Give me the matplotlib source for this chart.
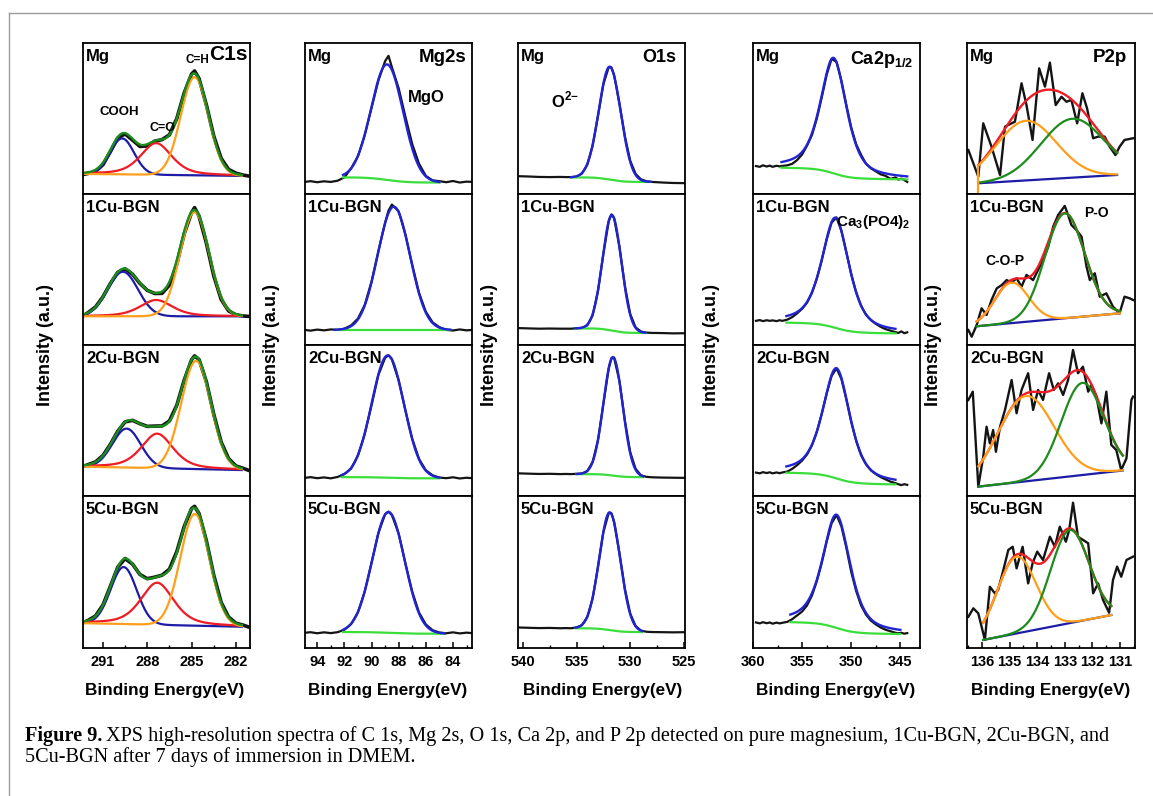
import numpy as np
import matplotlib
matplotlib.use("Agg")
import matplotlib.pyplot as plt
from matplotlib.lines import Line2D
from matplotlib.ticker import MultipleLocator

plt.rcParams["font.family"] = ["Liberation Sans", "DejaVu Sans"]
plt.rcParams["font.weight"] = "bold"
plt.rcParams["mathtext.fontset"] = "custom"
plt.rcParams["mathtext.rm"] = "Liberation Sans:bold"
plt.rcParams["mathtext.bf"] = "Liberation Sans:bold"

SAMPLES = ["Mg", "1Cu-BGN", "2Cu-BGN", "5Cu-BGN"]

# ---- C 1s: measured spectra + three-peak fit (centre, height, fwhm, lorentz fraction)
C1S_E = [292.3, 292.0, 291.5, 291.0, 290.5, 290.0, 289.5, 289.0, 288.5, 288.0, 287.5, 287.0, 286.5,
         286.0, 285.5, 285.0, 284.8, 284.5, 284.0, 283.5, 283.0, 282.5, 282.0, 281.5, 281.2]
C1S_RAW = [
    [0.13, 0.136, 0.15, 0.194, 0.28, 0.371, 0.398, 0.357, 0.315, 0.318, 0.35, 0.36, 0.392,
     0.501, 0.67, 0.795, 0.815, 0.765, 0.589, 0.383, 0.236, 0.163, 0.138, 0.125, 0.12],
    [0.195, 0.215, 0.252, 0.319, 0.407, 0.481, 0.504, 0.469, 0.408, 0.362, 0.341, 0.342, 0.397,
     0.538, 0.737, 0.878, 0.91, 0.854, 0.674, 0.457, 0.302, 0.226, 0.2, 0.192, 0.19],
    [0.197, 0.208, 0.226, 0.268, 0.342, 0.429, 0.491, 0.501, 0.479, 0.461, 0.463, 0.464, 0.497,
     0.602, 0.768, 0.903, 0.928, 0.904, 0.756, 0.54, 0.357, 0.248, 0.199, 0.183, 0.172],
    [0.168, 0.182, 0.211, 0.283, 0.405, 0.532, 0.588, 0.552, 0.484, 0.456, 0.466, 0.479, 0.519,
     0.635, 0.8, 0.918, 0.932, 0.885, 0.705, 0.478, 0.3, 0.204, 0.163, 0.15, 0.14],
]
C1S_RANGE = (292.2, 281.6)
C1S_BASE = [(0.133, 0.12), (0.19, 0.19), (0.194, 0.172), (0.163, 0.14)]
C1S_COOH = [(289.7, 0.238, 1.9, 0.0), (289.65, 0.295, 2.4, 0.0), (289.4, 0.258, 2.25, 0.0), (289.6, 0.375, 2.07, 0.0)]
C1S_CO = [(287.4, 0.21, 2.5, 0.5), (287.4, 0.108, 2.6, 0.5), (287.33, 0.229, 2.55, 0.5), (287.33, 0.277, 2.64, 0.5)]
C1S_CH = [(284.8, 0.65, 2.2, 0.0), (284.8, 0.69, 2.3, 0.0), (284.7, 0.716, 2.37, 0.0), (284.78, 0.735, 2.32, 0.0)]

# ---- Mg 2s
MG2S_E = [94.9, 94.5, 94.0, 93.5, 93.0, 92.5, 92.0, 91.5, 91.0, 90.5, 90.0, 89.5, 89.0, 88.75,
          88.5, 88.0, 87.5, 87.0, 86.5, 86.0, 85.5, 85.0, 84.5, 84.0, 83.5, 83.0, 82.6]
MG2S_RAW = [
    [0.08, 0.085, 0.078, 0.084, 0.08, 0.088, 0.11, 0.17, 0.25, 0.39, 0.57, 0.75, 0.88, 0.915,
     0.84, 0.7, 0.51, 0.33, 0.2, 0.12, 0.09, 0.085, 0.078, 0.086, 0.076, 0.082, 0.08],
    [0.1, 0.095, 0.102, 0.097, 0.103, 0.1, 0.108, 0.13, 0.175, 0.265, 0.42, 0.62, 0.81, 0.89,
     0.93, 0.885, 0.73, 0.53, 0.345, 0.22, 0.15, 0.118, 0.1, 0.096, 0.103, 0.097, 0.1],
    [0.12, 0.125, 0.118, 0.123, 0.117, 0.126, 0.145, 0.182, 0.268, 0.41, 0.6, 0.8, 0.915, 0.932,
     0.905, 0.765, 0.565, 0.378, 0.245, 0.17, 0.137, 0.122, 0.118, 0.124, 0.116, 0.121, 0.118],
    [0.1, 0.104, 0.097, 0.103, 0.098, 0.104, 0.12, 0.158, 0.235, 0.372, 0.56, 0.755, 0.88, 0.897,
     0.875, 0.752, 0.555, 0.37, 0.233, 0.155, 0.117, 0.102, 0.097, 0.103, 0.096, 0.101, 0.098],
]
MG2S_RANGE = [(92.1, 85.0), (92.7, 84.2), (92.2, 85.0), (92.1, 84.6)]
MG2S_BASE = [(0.11, 0.076), (0.1, 0.1), (0.125, 0.117), (0.105, 0.094)]
MG2S_PEAK = [(88.85, 0.765, 2.77, 0.0), (88.36, 0.816, 2.8, 0.0), (88.8, 0.81, 2.8, 0.0), (88.75, 0.795, 2.8, 0.0)]

# ---- O 1s
O1S_E = [540.4, 539.5, 538.5, 537.5, 536.5, 536.0, 535.5, 535.0, 534.5, 534.0, 533.5, 533.0, 532.5,
         532.0, 531.75, 531.5, 531.0, 530.5, 530.0, 529.5, 529.0, 528.5, 528.0, 527.0, 526.0, 525.0]
O1S_RAW = [
    [0.118, 0.116, 0.113, 0.112, 0.113, 0.112, 0.112, 0.115, 0.135, 0.194, 0.32, 0.517, 0.727,
     0.84, 0.838, 0.787, 0.598, 0.382, 0.22, 0.133, 0.097, 0.085, 0.08, 0.076, 0.073, 0.072],
    [0.112, 0.11, 0.108, 0.109, 0.108, 0.108, 0.108, 0.111, 0.113, 0.13, 0.197, 0.358, 0.604,
     0.82, 0.865, 0.84, 0.649, 0.391, 0.205, 0.117, 0.089, 0.082, 0.08, 0.079, 0.077, 0.078],
    [0.15, 0.148, 0.146, 0.147, 0.145, 0.146, 0.145, 0.147, 0.149, 0.165, 0.225, 0.37, 0.61,
     0.845, 0.912, 0.915, 0.76, 0.5, 0.29, 0.18, 0.137, 0.127, 0.124, 0.122, 0.121, 0.12],
    [0.135, 0.133, 0.131, 0.132, 0.13, 0.131, 0.13, 0.135, 0.15, 0.203, 0.327, 0.533, 0.762,
     0.889, 0.886, 0.829, 0.621, 0.39, 0.226, 0.145, 0.114, 0.107, 0.105, 0.104, 0.103, 0.104],
]
O1S_RANGE = [(535.5, 528.1), (535.1, 528.6), (535.0, 528.8), (535.1, 528.9)]
O1S_BASE = [(0.11, 0.08), (0.11, 0.08), (0.145, 0.125), (0.13, 0.105)]
O1S_PEAK = [(531.9, 0.748, 2.4, 0.0), (531.7, 0.766, 2.07, 0.0), (531.6, 0.785, 2.1, 0.0), (531.9, 0.775, 2.3, 0.0)]

# ---- Ca 2p1/2
CA2P_E = [359.7, 359.3, 359.0, 358.6, 358.3, 358.0, 357.6, 357.3, 357.0, 356.5, 356.0, 355.5, 355.0,
          354.5, 354.0, 353.5, 353.0, 352.5, 352.0, 351.5, 351.0, 350.5, 350.0, 349.5, 349.0, 348.5,
          348.0, 347.5, 347.0, 346.5, 346.0, 345.5, 345.2, 344.9, 344.6, 344.3]
CA2P_RAW = [
    [0.185, 0.18, 0.19, 0.182, 0.188, 0.18, 0.187, 0.183, 0.186, 0.19, 0.2, 0.225, 0.262,
     0.32, 0.39, 0.5, 0.64, 0.79, 0.895, 0.875, 0.75, 0.59, 0.44, 0.33, 0.26, 0.2,
     0.17, 0.15, 0.13, 0.12, 0.1, 0.11, 0.095, 0.102, 0.092, 0.08],
    [0.16, 0.165, 0.158, 0.164, 0.16, 0.163, 0.158, 0.164, 0.16, 0.168, 0.185, 0.21, 0.24,
     0.28, 0.345, 0.44, 0.56, 0.7, 0.81, 0.845, 0.755, 0.615, 0.47, 0.35, 0.26, 0.2,
     0.165, 0.14, 0.12, 0.105, 0.095, 0.085, 0.08, 0.09, 0.078, 0.084],
    [0.155, 0.15, 0.158, 0.152, 0.157, 0.15, 0.156, 0.151, 0.156, 0.162, 0.18, 0.205, 0.235,
     0.275, 0.335, 0.425, 0.545, 0.68, 0.795, 0.846, 0.775, 0.64, 0.49, 0.365, 0.27, 0.21,
     0.17, 0.145, 0.125, 0.11, 0.095, 0.085, 0.078, 0.072, 0.078, 0.074],
    [0.168, 0.162, 0.17, 0.163, 0.168, 0.16, 0.167, 0.162, 0.166, 0.172, 0.19, 0.215, 0.24,
     0.28, 0.345, 0.44, 0.56, 0.7, 0.82, 0.875, 0.8, 0.66, 0.5, 0.375, 0.28, 0.22,
     0.18, 0.155, 0.135, 0.12, 0.11, 0.1, 0.097, 0.1, 0.094, 0.098],
]
CA2P_RANGE = [(357.1, 344.3), (356.6, 345.5), (356.6, 345.5), (356.2, 345.0)]
CA2P_BASE = [(0.174, 0.097), (0.148, 0.077), (0.154, 0.077), (0.17, 0.092)]
CA2P_PEAK = [(351.8, 0.765, 3.16, 0.6), (351.6, 0.73, 3.3, 0.6), (351.5, 0.73, 3.3, 0.6), (351.5, 0.745, 3.3, 0.6)]

# ---- P 2p: noisy spectra, two-peak fit on a linear background
P2P_E = [
    [136.5, 136.14, 135.96, 135.66, 135.35, 135.17, 134.81, 134.57, 134.39, 134.17, 133.93, 133.72, 133.54,
     133.33, 133.12, 132.94, 132.76, 132.55, 132.36, 132.19, 131.97, 131.79, 131.55, 131.37, 131.16,
     131.01, 130.83, 130.52],
    [136.5, 136.38, 136.2, 136.02, 135.84, 135.66, 135.47, 135.29, 135.11, 134.93, 134.75, 134.57, 134.39,
     134.15, 133.97, 133.79, 133.6, 133.42, 133.24, 133.0, 132.88, 132.76, 132.58, 132.39, 132.21,
     132.09, 131.91, 131.73, 131.49, 131.25, 131.01, 130.83, 130.64, 130.52],
    [136.5, 136.34, 136.14, 135.96, 135.84, 135.72, 135.6, 135.5, 135.35, 135.17, 134.93, 134.75, 134.57,
     134.33, 134.15, 133.97, 133.79, 133.57, 133.4, 133.24, 133.06, 132.88, 132.7, 132.52, 132.34,
     132.15, 132.03, 131.85, 131.67, 131.49, 131.31, 131.13, 130.95, 130.76, 130.58, 130.52],
    [136.5, 136.32, 136.14, 135.9, 135.72, 135.54, 135.42, 135.23, 135.05, 134.89, 134.75, 134.53, 134.33,
     134.17, 134.0, 133.79, 133.54, 133.36, 133.18, 132.96, 132.84, 132.7, 132.52, 132.34, 132.15,
     131.97, 131.79, 131.61, 131.39, 131.25, 131.1, 130.95, 130.76, 130.52],
]
P2P_RAW = [
    [0.291, 0.115, 0.468, 0.313, 0.126, 0.446, 0.479, 0.733, 0.589, 0.358, 0.832, 0.711, 0.87,
     0.589, 0.644, 0.611, 0.623, 0.468, 0.667, 0.567, 0.369, 0.38, 0.38, 0.313, 0.258,
     0.313, 0.358, 0.369],
    [0.099, 0.055, 0.132, 0.243, 0.199, 0.298, 0.375, 0.397, 0.43, 0.413, 0.442, 0.386, 0.464,
     0.43, 0.497, 0.563, 0.651, 0.784, 0.861, 0.921, 0.861, 0.795, 0.762, 0.717, 0.519,
     0.43, 0.475, 0.32, 0.342, 0.254, 0.21, 0.32, 0.309, 0.298],
    [0.636, 0.691, 0.062, 0.26, 0.459, 0.349, 0.437, 0.293, 0.459, 0.57, 0.768, 0.548, 0.702,
     0.813, 0.57, 0.702, 0.636, 0.813, 0.702, 0.746, 0.669, 0.768, 0.967, 0.813, 0.856,
     0.691, 0.735, 0.658, 0.481, 0.691, 0.338, 0.305, 0.172, 0.25, 0.636, 0.658],
    [0.206, 0.261, 0.228, 0.053, 0.403, 0.36, 0.382, 0.513, 0.645, 0.666, 0.524, 0.666, 0.425,
     0.557, 0.634, 0.579, 0.732, 0.666, 0.798, 0.699, 0.776, 0.956, 0.732, 0.711, 0.689,
     0.36, 0.425, 0.316, 0.232, 0.447, 0.535, 0.469, 0.579, 0.601],
]
P2P_RANGE = [(136.14, 131.1), (136.2, 131.0), (136.14, 130.89), (135.96, 131.31)]
P2P_BASE = [(0.071, 0.126), (0.124, 0.21), (0.062, 0.169), (0.053, 0.217)]
P2P_COP = [(134.41, 0.395, 2.6, 0.0), (134.93, 0.268, 1.45, 0.0), (134.41, 0.565, 2.4, 0.0), (134.75, 0.505, 1.65, 0.0)]
P2P_PO = [(132.72, 0.39, 2.7, 0.0), (133.0, 0.695, 1.69, 0.0), (132.36, 0.61, 1.81, 0.0), (132.82, 0.612, 1.65, 0.0)]

BLACK = "#141414"
BLUE = "#1c1ca6"
PEAK_BLUE = "#2024d2"
RED = "#ee1c24"
ORANGE = "#ff9e1b"
GREEN = "#1d8c1d"
LIME = "#3ade3a"

W, H = 1153, 796
COL_X = [(83, 250), (305, 472), (518, 685), (753, 920), (967, 1135)]
ROW_Y = [43, 194, 345, 496, 648]

fig = plt.figure(figsize=(W / 100, H / 100), dpi=100)


def pv(e, c, h, w, eta):
    x = 4 * (e - c) ** 2 / w ** 2
    return h * ((1 - eta) * np.exp(-np.log(2) * x) + eta / (1 + x))


def linear_bg(e, rng, ends):
    return ends[0] + (ends[1] - ends[0]) * (rng[0] - e) / (rng[0] - rng[1])


def shirley_bg(e, peak, ends):
    # e runs from high to low binding energy
    area = np.cumsum(peak[::-1])[::-1]
    return ends[1] + (ends[0] - ends[1]) * area / area[0]


def panel(c, r, xlim, major, minor):
    x0, x1 = COL_X[c]
    y0, y1 = ROW_Y[r], ROW_Y[r + 1]
    ax = fig.add_axes([x0 / W, 1 - y1 / H, (x1 - x0) / W, (y1 - y0) / H])
    ax.set_xlim(*xlim)
    ax.set_ylim(0, 1)
    ax.set_yticks([])
    ax.xaxis.set_major_locator(MultipleLocator(major))
    ax.xaxis.set_minor_locator(MultipleLocator(minor))
    last = r == 3
    ax.tick_params(axis="x", which="major", direction="in", length=4 if last else 0,
                   width=1.1, labelbottom=last, labelsize=10.5, pad=5)
    ax.tick_params(axis="x", which="minor", direction="in", length=2.5 if last else 0, width=1.0)
    for s in ax.spines.values():
        s.set_linewidth(1.3)
    ax.text(0.018, 0.96, SAMPLES[r], transform=ax.transAxes, ha="left", va="top", fontsize=12)
    return ax


# C 1s
for r in range(4):
    ax = panel(0, r, (292.35, 281.05), 3, 1.5)
    ax.plot(C1S_E, C1S_RAW[r], color=BLACK, lw=2.6)
    e = np.linspace(C1S_RANGE[0], C1S_RANGE[1], 400)
    bg = linear_bg(e, C1S_RANGE, C1S_BASE[r])
    comps = [pv(e, *C1S_COOH[r]), pv(e, *C1S_CO[r]), pv(e, *C1S_CH[r])]
    for comp, col in zip(comps, [BLUE, RED, ORANGE]):
        ax.plot(e, bg + comp, color=col, lw=1.6)
    ax.plot(e, bg + sum(comps), color=GREEN, lw=1.7)
    if r == 0:
        ax.text(0.985, 0.99, "C1s", transform=ax.transAxes, ha="right", va="top", fontsize=15)
        ax.text(289.9, 0.543, "COOH", ha="center", va="center", fontsize=9.5)
        ax.text(287.0, 0.437, "C=O", ha="center", va="center", fontsize=9)
        ax.text(284.6, 0.887, "C=H", ha="center", va="center", fontsize=8.5)

# Mg 2s, O 1s and Ca 2p: one peak on a Shirley background
single = [
    (1, (94.9, 82.6), 2, 1, MG2S_E, MG2S_RAW, MG2S_RANGE, MG2S_BASE, MG2S_PEAK),
    (2, (540.45, 524.9), 5, 2.5, O1S_E, O1S_RAW, O1S_RANGE, O1S_BASE, O1S_PEAK),
    (3, (360.0, 343.0), 5, 2.5, CA2P_E, CA2P_RAW, CA2P_RANGE, CA2P_BASE, CA2P_PEAK),
]
for c, xlim, major, minor, es, raw, rngs, bases, peaks in single:
    for r in range(4):
        ax = panel(c, r, xlim, major, minor)
        ax.plot(es, raw[r], color=BLACK, lw=1.6)
        e = np.linspace(rngs[r][0], rngs[r][1], 400)
        pk = pv(e, *peaks[r])
        bg = shirley_bg(e, pk, bases[r])
        ax.plot(e, bg, color=LIME, lw=1.6)
        ax.plot(e, bg + pk, color=PEAK_BLUE, lw=1.7)

axes = fig.axes
ax = axes[4]
ax.text(0.97, 0.96, "Mg2s", transform=ax.transAxes, ha="right", va="top", fontsize=13.5)
ax.text(86.0, 0.642, "MgO", ha="center", va="center", fontsize=12)
ax = axes[8]
ax.text(0.95, 0.96, "O1s", transform=ax.transAxes, ha="right", va="top", fontsize=13)
ax.text(536.1, 0.623, r"O$^{2\!-}$", ha="center", va="center", fontsize=12)
ax = axes[12]
ax.text(0.96, 0.96, r"Ca2p$_{1/2}$", transform=ax.transAxes, ha="right", va="top", fontsize=13)
ax = axes[13]
ax.text(351.6, 0.815, r"Ca$_3$(PO4)$_2$", ha="left", va="center", fontsize=11)

# P 2p
for r in range(4):
    ax = panel(4, r, (136.55, 130.45), 1, 0.5)
    ax.plot(P2P_E[r], P2P_RAW[r], color=BLACK, lw=1.7)
    e = np.linspace(P2P_RANGE[r][0], P2P_RANGE[r][1], 400)
    bg = linear_bg(e, P2P_RANGE[r], P2P_BASE[r])
    cop = pv(e, *P2P_COP[r])
    po = pv(e, *P2P_PO[r])
    ax.plot(e, bg, color=BLUE, lw=1.6)
    ax.plot(e, bg + cop + po, color=RED, lw=1.7)
    ax.plot(e, bg + cop, color=ORANGE, lw=1.6)
    ax.plot(e, bg + po, color=GREEN, lw=1.6)
    if r == 0:
        ax.vlines(e[0], 0, bg[0] + cop[0], color=ORANGE, lw=1.6)
        ax.text(0.95, 0.96, "P2p", transform=ax.transAxes, ha="right", va="top", fontsize=13.5)
    if r == 1:
        ax.text(135.17, 0.556, "C-O-P", ha="center", va="center", fontsize=10)
        ax.text(131.84, 0.874, "P-O", ha="center", va="center", fontsize=10)

# axis titles shared by each column
for xc in [45, 271, 490, 712, 934]:
    fig.text(xc / W, 1 - 345 / H, "Intensity (a.u.)", rotation=90, ha="center", va="center", fontsize=13)
for xc in [165, 388, 603, 836, 1051]:
    fig.text(xc / W, 1 - 690 / H, "Binding Energy(eV)", ha="center", va="center", fontsize=12.3)

# frame around the figure
fig.add_artist(Line2D([9 / W, 1], [1 - 13 / H, 1 - 13 / H], color="#9c9c9c", lw=1.0))
fig.add_artist(Line2D([9 / W, 9 / W], [0, 1 - 13 / H], color="#9c9c9c", lw=1.0))

# caption
serif = ["Liberation Serif", "DejaVu Serif"]
t0 = fig.text(25 / W, 1 - 736 / H, "Figure 9.", family=serif, weight="bold", fontsize=14.6, va="center")
renderer = fig.canvas.get_renderer()
bb = t0.get_window_extent(renderer)
fig.text(bb.x1 / W + 4 / W, 1 - 736 / H,
         "XPS high-resolution spectra of C 1s, Mg 2s, O 1s, Ca 2p, and P 2p detected on pure magnesium, "
         "1Cu-BGN, 2Cu-BGN, and",
         family=serif, weight="normal", fontsize=14.6, va="center")
fig.text(25 / W, 1 - 757 / H, "5Cu-BGN after 7 days of immersion in DMEM.",
         family=serif, weight="normal", fontsize=14.6, va="center")

fig.savefig("out.png", dpi=100)
